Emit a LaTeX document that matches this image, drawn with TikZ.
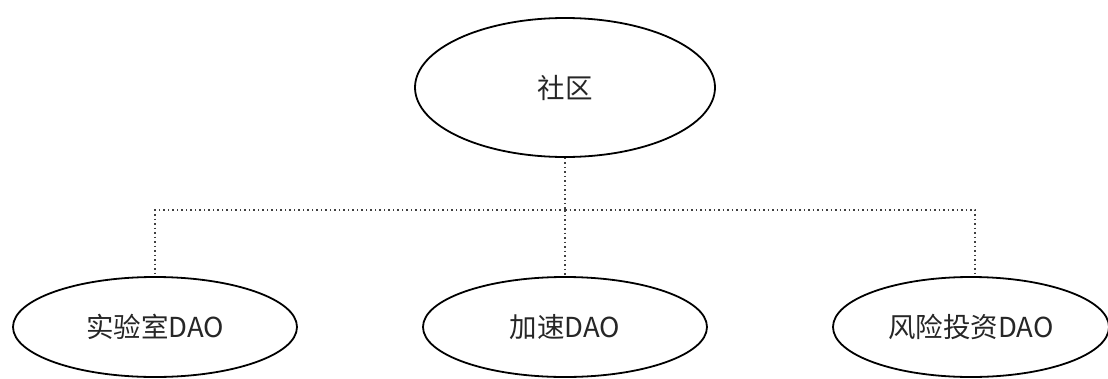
\documentclass[tikz,border=0pt]{standalone}
\usepackage{fontspec}
\setmainfont{Noto Sans CJK SC}
\usetikzlibrary{shapes.geometric}
\begin{document}
\begin{tikzpicture}[x=1pt,y=-1pt,
  oval/.style={ellipse,draw=black,line width=1.8pt,inner sep=0pt,
    font=\fontsize{27.5pt}{32pt}\selectfont,text=black!85},
  conn/.style={draw=black!75,line width=1.5pt,dash pattern=on 1.5pt off 3pt}]
\useasboundingbox (0,0) rectangle (1108,378);
\node[oval,minimum width=300pt,minimum height=139pt] (top) at (565,87.5) {社区};
\node[oval,minimum width=284pt,minimum height=100pt] (l) at (155,327) {实验室DAO};
\node[oval,minimum width=284pt,minimum height=100pt] (m) at (565,327) {加速DAO};
\node[oval,minimum width=276pt,minimum height=100pt] (r) at (971,327) {风险投资DAO};
\coordinate (j) at (565,210);
\draw[conn] (top.south) -- (j);
\draw[conn] (j) -| (l.north);
\draw[conn] (j) -| ([xshift=4pt]r.north);
\draw[conn] (j) -- (m.north);
\end{tikzpicture}
\end{document}
